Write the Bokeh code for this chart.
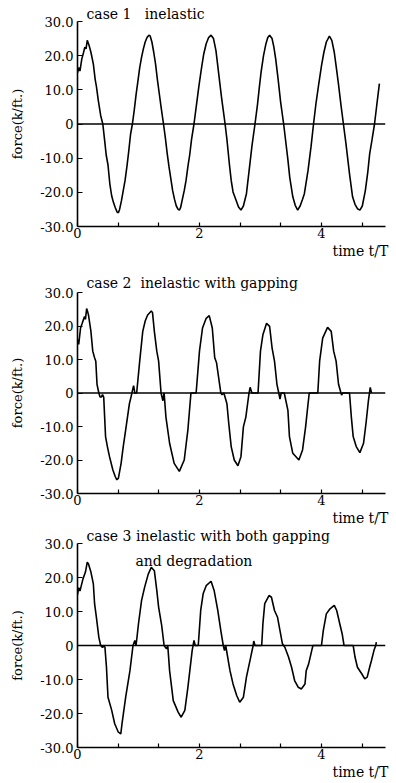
import math
from bokeh.plotting import figure
from bokeh.layouts import column
from bokeh.models import FixedTicker, CustomJSTickFormatter, Span, Label, Range1d, Title
from bokeh.embed import file_html
from bokeh.resources import INLINE

FONT = "DejaVu Serif"

# ---- axis ticks ----
y_ticks = [-30, -20, -10, 0, 10, 20, 30]
x_major = [0, 2, 4]
x_minor = [0.667, 1.333, 2.667, 3.333, 4.667]

# ---- case 1: inelastic  (t/T, force k/ft) ----
case1 = [
    (0.00, 15.0), (0.02, 16.5), (0.04, 15.5), (0.07, 19.0), (0.10, 21.0), (0.12, 22.5),
    (0.14, 22.0), (0.16, 24.5), (0.17, 24.0), (0.19, 23.0), (0.22, 21.0), (0.26, 17.5),
    (0.29, 13.0), (0.31, 11.0), (0.34, 7.0), (0.38, 2.5), (0.415, 0.0), (0.44, -4.0),
    (0.47, -9.0), (0.50, -12.0), (0.53, -17.5), (0.56, -21.0), (0.59, -23.0), (0.62, -24.5),
    (0.65, -25.8), (0.67, -26.0), (0.69, -25.0), (0.72, -22.5), (0.75, -19.5), (0.78, -16.5),
    (0.81, -12.5), (0.84, -8.0), (0.87, -3.0), (0.90, 0.0), (0.93, 4.0), (0.96, 8.5),
    (0.99, 12.5), (1.02, 16.5), (1.05, 19.5), (1.08, 22.0), (1.11, 24.0), (1.14, 25.3),
    (1.17, 26.0), (1.19, 25.8), (1.22, 24.0), (1.25, 21.0), (1.28, 17.5), (1.31, 13.0),
    (1.34, 9.0), (1.37, 5.0), (1.41, 0.0), (1.44, -4.0), (1.47, -8.5), (1.50, -12.5),
    (1.53, -16.0), (1.56, -19.5), (1.59, -22.0), (1.62, -24.0), (1.65, -25.0), (1.67, -25.2),
    (1.69, -24.5), (1.72, -22.0), (1.75, -19.5), (1.78, -16.5), (1.81, -12.5), (1.84, -9.0),
    (1.87, -4.5), (1.91, 0.0), (1.95, 5.5), (1.99, 11.0), (2.03, 16.0), (2.07, 20.5),
    (2.11, 23.5), (2.15, 25.3), (2.19, 26.0), (2.23, 25.0), (2.27, 21.5), (2.30, 17.0),
    (2.33, 12.5), (2.36, 8.0), (2.39, 4.0), (2.42, 0.0), (2.45, -4.5), (2.49, -11.7),
    (2.52, -16.5), (2.55, -19.9), (2.60, -22.3), (2.64, -24.3), (2.68, -25.2), (2.72, -24.0),
    (2.77, -20.4), (2.82, -12.7), (2.86, -6.5), (2.91, 0.0), (2.95, 5.5), (2.98, 10.5),
    (3.01, 15.2), (3.05, 20.0), (3.09, 23.5), (3.12, 25.3), (3.15, 26.0), (3.19, 25.0),
    (3.22, 22.5), (3.25, 19.0), (3.29, 13.0), (3.33, 6.5), (3.38, 0.0), (3.42, -6.0),
    (3.45, -10.5), (3.48, -15.6), (3.53, -21.3), (3.57, -23.8), (3.61, -25.2), (3.65, -24.0),
    (3.69, -22.0), (3.72, -20.4), (3.78, -13.6), (3.83, -6.5), (3.87, 0.0), (3.91, 6.0),
    (3.95, 11.0), (4.00, 17.0), (4.04, 21.0), (4.08, 24.0), (4.13, 25.7), (4.17, 24.5),
    (4.21, 21.0), (4.24, 17.0), (4.28, 11.5), (4.32, 5.5), (4.36, 0.0), (4.40, -5.5),
    (4.46, -14.6), (4.51, -21.3), (4.55, -23.5), (4.59, -24.8), (4.63, -25.2), (4.67, -24.0),
    (4.72, -19.4), (4.76, -14.0), (4.79, -8.8), (4.83, -4.5), (4.87, 0.0), (4.91, 6.0),
    (4.95, 11.8),
]

# ---- case 2: inelastic with gapping ----
case2 = [
    (0.00, 16.0), (0.02, 14.5), (0.05, 19.4), (0.077, 20.8), (0.115, 22.8), (0.13, 22.0),
    (0.15, 25.2), (0.17, 24.0), (0.18, 23.3), (0.22, 18.4), (0.25, 12.5), (0.28, 10.5),
    (0.30, 9.5), (0.32, 2.6), (0.35, 0.0), (0.37, -1.2), (0.39, -1.2), (0.41, -0.5),
    (0.43, -1.3), (0.46, -13.0), (0.49, -16.0), (0.525, -19.0), (0.58, -23.0), (0.62, -25.0),
    (0.645, -25.9), (0.67, -25.5), (0.715, -21.0), (0.75, -16.0), (0.79, -11.0), (0.85, -3.3),
    (0.88, -1.0), (0.90, 0.7), (0.92, 2.2), (0.94, 0.0), (0.97, 0.0), (1.02, 9.5),
    (1.07, 18.4), (1.11, 21.5), (1.15, 23.3), (1.21, 24.5), (1.23, 24.0), (1.26, 18.4),
    (1.30, 12.5), (1.33, 9.5), (1.37, 0.0), (1.40, -2.3), (1.42, 0.0), (1.45, -7.2),
    (1.51, -15.0), (1.585, -21.0), (1.67, -23.4), (1.75, -20.0), (1.81, -11.0), (1.86, 0.0),
    (1.945, 0.0), (2.00, 12.5), (2.05, 19.4), (2.11, 22.3), (2.16, 23.1), (2.21, 19.4),
    (2.25, 10.5), (2.28, 9.0), (2.33, 2.6), (2.35, 0.0), (2.37, -0.5), (2.40, 0.0),
    (2.45, -3.2), (2.48, -9.1), (2.52, -16.0), (2.57, -20.0), (2.63, -21.7), (2.68, -19.0),
    (2.72, -10.1), (2.76, -7.2), (2.81, -0.3), (2.83, 1.7), (2.86, 0.0), (2.96, 0.0),
    (3.00, 12.5), (3.04, 17.4), (3.10, 20.8), (3.15, 19.9), (3.19, 13.5), (3.23, 9.5),
    (3.27, 2.6), (3.30, 0.0), (3.32, -1.8), (3.34, 0.0), (3.39, 0.0), (3.45, -5.2),
    (3.475, -13.0), (3.53, -18.0), (3.63, -20.0), (3.69, -17.0), (3.74, -10.1), (3.78, -3.2),
    (3.80, 0.0), (3.94, 0.0), (3.97, 9.5), (4.02, 16.4), (4.10, 19.6), (4.16, 18.4),
    (4.20, 12.5), (4.24, 9.5), (4.28, 2.6), (4.32, 0.0), (4.33, -0.6), (4.35, 0.0),
    (4.46, 0.0), (4.49, -7.2), (4.52, -13.0), (4.57, -16.0), (4.63, -17.8), (4.69, -15.0),
    (4.73, -9.1), (4.77, -2.3), (4.80, 1.7), (4.82, 0.0),
]

# ---- case 3: inelastic with both gapping and degradation ----
case3 = [
    (0.00, 15.0), (0.02, 17.0), (0.04, 16.0), (0.09, 19.6), (0.13, 21.6), (0.16, 24.5),
    (0.18, 24.0), (0.22, 21.6), (0.26, 18.1), (0.28, 12.3), (0.31, 8.3), (0.35, 2.4),
    (0.38, 0.0), (0.41, -0.6), (0.43, 0.0), (0.45, -0.5), (0.475, -6.4), (0.50, -15.2),
    (0.56, -19.0), (0.61, -23.0), (0.67, -25.5), (0.71, -26.0), (0.73, -23.0), (0.79, -15.2),
    (0.86, -7.4), (0.91, 0.0), (0.94, 1.5), (0.96, 0.0), (1.00, 6.4), (1.05, 13.2),
    (1.10, 17.1), (1.16, 21.0), (1.21, 23.0), (1.26, 22.0), (1.30, 16.2), (1.33, 11.3),
    (1.38, 5.9), (1.42, 0.0), (1.46, -1.0), (1.48, 0.0), (1.51, -7.4), (1.57, -16.2),
    (1.65, -19.6), (1.70, -21.1), (1.76, -19.1), (1.81, -12.3), (1.88, -1.5), (1.91, 1.5),
    (1.93, 0.0), (1.98, 0.0), (2.02, 10.3), (2.06, 15.2), (2.11, 17.6), (2.19, 18.9),
    (2.24, 16.2), (2.30, 10.3), (2.35, 4.4), (2.39, 0.0), (2.41, -1.5), (2.43, 0.0),
    (2.50, -7.4), (2.55, -11.3), (2.61, -14.7), (2.66, -16.7), (2.72, -15.2), (2.77, -9.3),
    (2.84, -3.4), (2.88, 0.0), (2.89, 1.3), (2.91, 0.0), (3.02, 0.0), (3.04, 6.4),
    (3.07, 12.3), (3.14, 14.7), (3.18, 14.2), (3.23, 10.3), (3.28, 8.3), (3.32, 4.4),
    (3.36, 0.5), (3.38, 0.0), (3.40, -0.5), (3.46, -3.4), (3.51, -6.4), (3.56, -10.3),
    (3.62, -12.3), (3.67, -12.8), (3.73, -11.3), (3.75, -7.4), (3.79, -5.4), (3.84, -1.5),
    (3.86, 0.0), (4.00, 0.0), (4.03, 4.4), (4.08, 9.3), (4.14, 10.8), (4.21, 11.8),
    (4.25, 10.3), (4.30, 6.4), (4.34, 3.4), (4.37, 0.0), (4.52, 0.0), (4.55, -3.4),
    (4.59, -6.4), (4.66, -8.3), (4.71, -9.8), (4.75, -9.3), (4.79, -6.4), (4.82, -4.4),
    (4.86, -1.5), (4.89, 0.0), (4.90, 1.0),
]

NB = "\u00a0"
title_texts = ["case 1" + NB * 3 + "inelastic",
               "case 2" + NB * 2 + "inelastic with gapping",
               "case 3 inelastic with both gapping"]
extra_line = "and degradation"
x_label = "time t/T"
y_label = "force(k/ft.)"

y_fmt = CustomJSTickFormatter(code="return tick == 0 ? '0' : tick.toFixed(1);")


def panel(data, height, btop, bbot, title, title_standoff):
    p = figure(width=396, height=height, x_range=Range1d(0, 5.05), y_range=Range1d(-30, 30),
               output_backend="svg", toolbar_location=None,
               min_border_left=77, min_border_right=11,
               min_border_top=btop, min_border_bottom=bbot)
    p.outline_line_color = None
    p.grid.visible = False
    p.background_fill_color = "white"

    p.title.text = title
    p.title.align = "left"
    p.title.offset = 9
    p.title.standoff = title_standoff
    p.title.text_font = FONT
    p.title.text_font_size = "14px"
    p.title.text_font_style = "normal"
    p.title.text_color = "black"

    xa = p.xaxis[0]
    xa.ticker = FixedTicker(ticks=x_major, minor_ticks=x_minor)
    xa.axis_line_width = 1.6
    xa.axis_line_color = "black"
    xa.major_tick_in = 4
    xa.major_tick_out = 0
    xa.minor_tick_in = 4
    xa.minor_tick_out = 0
    xa.major_tick_line_width = 1.2
    xa.minor_tick_line_width = 1.2
    xa.major_label_standoff = 1
    xa.major_label_text_font = FONT
    xa.major_label_text_font_size = "13px"
    xa.major_label_text_color = "black"

    ya = p.yaxis[0]
    ya.ticker = FixedTicker(ticks=y_ticks, minor_ticks=[])
    ya.formatter = y_fmt
    ya.axis_line_width = 1.6
    ya.axis_line_color = "black"
    ya.major_tick_in = 5
    ya.major_tick_out = 0
    ya.major_tick_line_width = 1.2
    ya.minor_tick_in = 0
    ya.minor_tick_out = 0
    ya.major_label_standoff = 4
    ya.major_label_text_font = FONT
    ya.major_label_text_font_size = "13px"
    ya.major_label_text_color = "black"
    ya.axis_label = y_label
    ya.axis_label_text_font = FONT
    ya.axis_label_text_font_size = "13px"
    ya.axis_label_text_font_style = "normal"
    ya.axis_label_text_color = "black"
    ya.axis_label_standoff = 12

    p.add_layout(Title(text=x_label, align="left", offset=255, standoff=0,
                       text_font=FONT, text_font_size="14px", text_font_style="normal",
                       text_color="black"), "below")

    p.add_layout(Span(location=0, dimension="width", line_color="black", line_width=1.4))

    ts = [d[0] for d in data]
    fs = [d[1] for d in data]
    p.line(ts, fs, line_color="black", line_width=1.6)
    return p


p1 = panel(case1, 258, 21, 29, title_texts[0], 0)
p2 = panel(case2, 267, 34, 30, title_texts[1], 3)
p3 = panel(case3, 258, 18, 36, title_texts[2], 0)
p3.add_layout(Label(x=0.95, y=25.0, text=extra_line, text_font=FONT, text_font_size="14px",
                    text_color="black", text_baseline="alphabetic", text_align="left"))

layout = column(p1, p2, p3, spacing=0)
open("out.html", "w").write(file_html(layout, INLINE))
